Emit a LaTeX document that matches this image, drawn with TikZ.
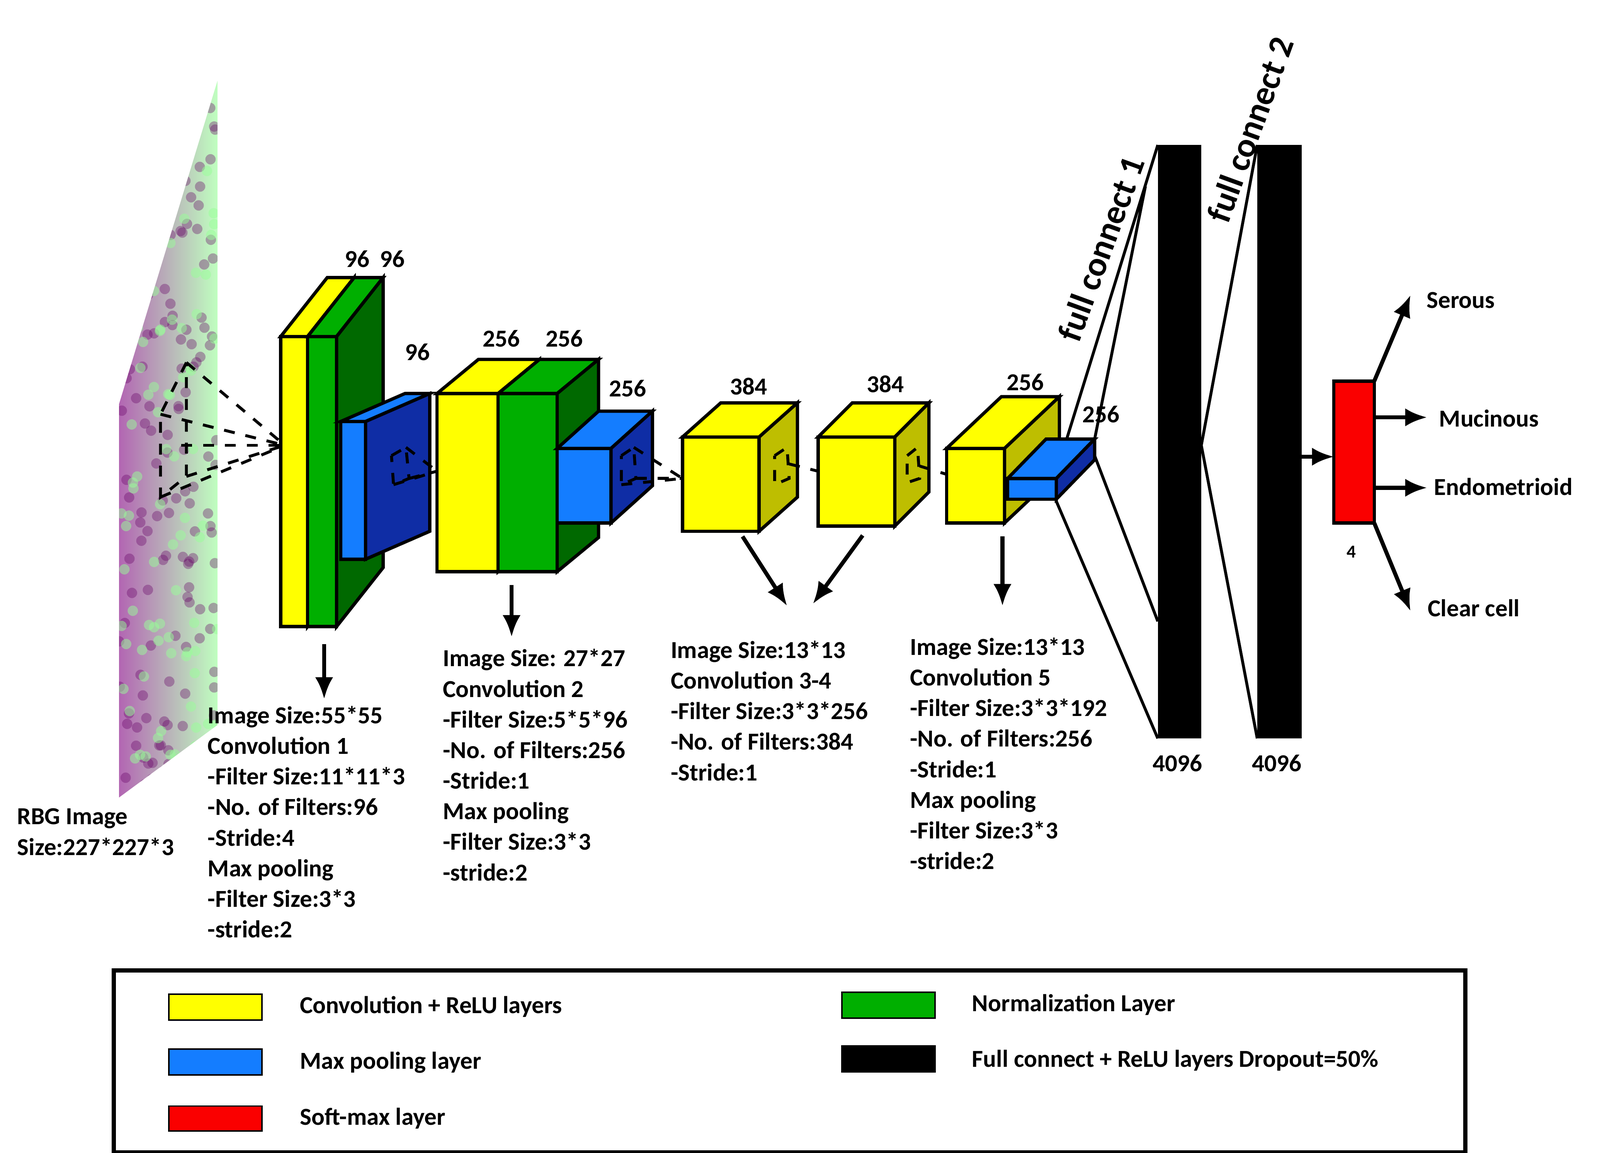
\documentclass[tikz,border=0pt]{standalone}
\usepackage{fontspec}
\setmainfont{Carlito}
\usetikzlibrary{arrows.meta}
\definecolor{yel}{RGB}{255,255,0}
\definecolor{olv}{RGB}{190,190,0}
\definecolor{grn}{RGB}{0,175,0}
\definecolor{dgrn}{RGB}{0,105,0}
\definecolor{blu}{RGB}{20,125,255}
\definecolor{dblu}{RGB}{15,45,165}
\definecolor{rd}{RGB}{250,0,0}
\newcommand\cuboid[9]{%
 \filldraw[fill=#7,line width=0.9pt] (#1,#2) rectangle ++(#3,#4);
 \filldraw[fill=#8,line width=0.9pt] (#1,#2) -- ++(#5,-#6) -- ++(#3,0) -- (#1+#3,#2) -- cycle;
 \filldraw[fill=#9,line width=0.9pt] (#1+#3,#2) -- ++(#5,-#6) -- ++(0,#4) -- (#1+#3,#2+#4) -- cycle;}
\tikzset{x=0.01cm,y=-0.01cm,
 txt/.style={font=\fontsize{6.7}{8.4}\selectfont\bfseries,align=left,anchor=north west,inner sep=0},
 lab/.style={font=\fontsize{6.7}{8.4}\selectfont\bfseries,inner sep=0},
 arr/.style={-{Latex[length=6pt,width=5pt]},line width=1.1pt},
 dsh/.style={dashed,line width=0.8pt},
 fc/.style={line width=0.8pt}}
\begin{document}
\begin{tikzpicture}
\useasboundingbox (0,0) rectangle (1545,1113);
% image plane
\shade[left color=violet!60,right color=green!25] (115,390) -- (210,78) -- (210,700) -- (115,770) -- cycle;
\begin{scope}
\clip (115,390) -- (210,78) -- (210,700) -- (115,770) -- cycle;
\foreach \i in {1,...,160}{\pgfmathsetmacro\xx{115+95*rnd}\pgfmathsetmacro\yy{80+690*rnd}
 \fill[violet!80!black,opacity=0.35] (\xx,\yy) circle (5);}
\foreach \i in {1,...,100}{\pgfmathsetmacro\xx{115+95*rnd}\pgfmathsetmacro\yy{80+690*rnd}
 \fill[green!40,opacity=0.5] (\xx,\yy) circle (5);}
\end{scope}
\draw[dsh] (180,350) -- (155,400) -- (155,480) -- (180,460) -- cycle;
\foreach \p in {(180,350),(155,400),(155,480),(180,460),(175,430)} \draw[dsh] \p -- (275,430);
% conv1
\cuboid{271}{325}{26}{280}{45}{57}{yel}{yel}{yel}
\cuboid{297}{325}{28}{280}{45}{57}{grn}{grn}{dgrn}
\cuboid{329}{407}{24}{133}{62}{27}{blu}{blu}{dblu}
\draw[dsh] (378,440) -- (392,432) -- (395,462) -- (380,468) -- cycle;
\foreach \p in {(392,432),(395,462),(380,468)} \draw[dsh] \p -- (422,455);
% conv2
\cuboid{422}{380}{59}{172}{40}{33}{yel}{yel}{yel}
\cuboid{481}{380}{57}{172}{40}{33}{grn}{grn}{dgrn}
\cuboid{538}{433}{52}{72}{40}{36}{blu}{blu}{dblu}
\draw[dsh] (600,440) -- (612,432) -- (614,462) -- (600,468) -- cycle;
\foreach \p in {(612,432),(614,462),(600,468)} \draw[dsh] \p -- (659,462);
% conv3,4,5
\cuboid{659}{422}{74}{91}{37}{33}{yel}{yel}{olv}
\draw[dsh] (748,440) -- (760,432) -- (762,462) -- (748,468) -- cycle;
\draw[dsh] (762,448) -- (790,455);
\cuboid{790}{422}{74}{86}{33}{33}{yel}{yel}{olv}
\draw[dsh] (876,440) -- (886,432) -- (888,462) -- (876,466) -- cycle;
\draw[dsh] (888,450) -- (914,458);
\cuboid{914}{433}{56}{72}{53}{50}{yel}{yel}{olv}
\cuboid{973}{462}{47}{20}{37}{38}{blu}{blu}{dblu}
% labels
\node[lab] at (345,250) {96};\node[lab] at (379,250) {96};\node[lab] at (403,340) {96};
\node[lab] at (484,327) {256};\node[lab] at (545,327) {256};\node[lab] at (606,375) {256};
\node[lab] at (723,373) {384};\node[lab] at (855,371) {384};
\node[lab] at (990,369) {256};\node[lab] at (1063,400) {256};
% full connects
\fill (1118,140) rectangle (1160,713);
\fill (1214,140) rectangle (1257,713);
\draw[fc] (1030,424) -- (1118,140) (1057,424) -- (1106,180) (1020,484) -- (1118,713) (1057,440) -- (1118,600);
\draw[fc] (1160,430) -- (1214,140) (1160,430) -- (1214,713);
\node[lab,rotate=70,font=\fontsize{9.5}{12}\selectfont\bfseries] at (1063,240) {full connect 1};
\node[lab,rotate=70,font=\fontsize{9.5}{12}\selectfont\bfseries] at (1207,125) {full connect 2};
\node[lab] at (1137,737) {4096};\node[lab] at (1233,737) {4096};
% softmax
\filldraw[fill=rd,line width=0.9pt] (1288,368) rectangle (1327,505);
\node[lab,font=\fontsize{5}{6}\selectfont\bfseries] at (1305,533) {4};
\draw[arr] (1257,441) -- (1288,441);
\draw[arr] (1327,368) -- (1362,285);\node[txt,anchor=west] at (1377,290) {Serous};
\draw[arr] (1327,403) -- (1378,403);\node[txt,anchor=west] at (1389,404) {Mucinous};
\draw[arr] (1327,471) -- (1378,471);\node[txt,anchor=west] at (1384,470) {Endometrioid};
\draw[arr] (1327,505) -- (1362,590);\node[txt,anchor=west] at (1378,587) {Clear cell};
% down arrows
\draw[arr] (313,622) -- (313,675);
\draw[arr] (494,565) -- (494,615);
\draw[arr] (717,518) -- (760,585);
\draw[arr] (833,517) -- (785,583);
\draw[arr] (968,518) -- (968,585);
% texts
\node[txt] at (16,780) {RBG Image\\Size:227*227*3};
\node[txt] at (200,681) {Image Size:55*55\\Convolution 1\\-Filter Size:11*11*3\\-No. of Filters:96\\-Stride:4\\Max pooling\\-Filter Size:3*3\\-stride:2};
\node[txt] at (427,626) {Image Size: 27*27\\Convolution 2\\-Filter Size:5*5*96\\-No. of Filters:256\\-Stride:1\\Max pooling\\-Filter Size:3*3\\-stride:2};
\node[txt] at (647,618) {Image Size:13*13\\Convolution 3-4\\-Filter Size:3*3*256\\-No. of Filters:384\\-Stride:1};
\node[txt] at (878,615) {Image Size:13*13\\Convolution 5\\-Filter Size:3*3*192\\-No. of Filters:256\\-Stride:1\\Max pooling\\-Filter Size:3*3\\-stride:2};
% legend
\draw[line width=1.2pt] (110,937) rectangle (1415,1113);
\filldraw[fill=yel] (163,960) rectangle (253,985);\node[txt,anchor=west] at (289,972) {Convolution + ReLU layers};
\filldraw[fill=blu] (163,1013) rectangle (253,1038);\node[txt,anchor=west] at (289,1026) {Max pooling layer};
\filldraw[fill=rd] (163,1068) rectangle (253,1092);\node[txt,anchor=west] at (289,1080) {Soft-max layer};
\filldraw[fill=grn] (813,958) rectangle (903,983);\node[txt,anchor=west] at (938,970) {Normalization Layer};
\filldraw[fill=black] (813,1010) rectangle (903,1035);\node[txt,anchor=west] at (938,1024) {Full connect + ReLU layers Dropout=50\%};
\end{tikzpicture}
\end{document}
